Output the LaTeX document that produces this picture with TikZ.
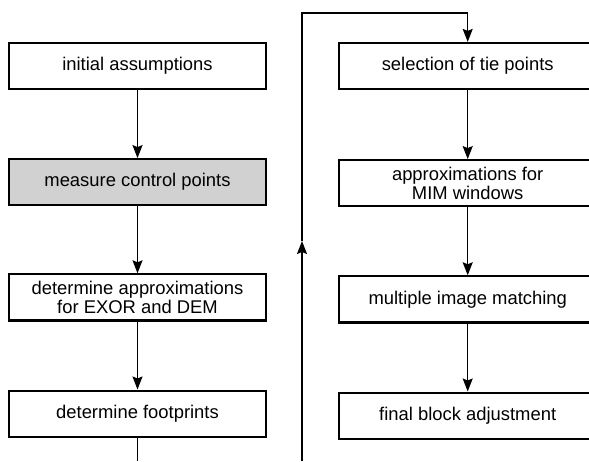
\documentclass[tikz,border=0pt]{standalone}
\usepackage{fontspec}
\setmainfont{Liberation Sans}
\usetikzlibrary{arrows.meta,positioning}
\tikzset{
  stepbox/.style={draw,line width=1.1pt,minimum width=128.5pt,minimum height=23pt,
    inner sep=2pt,align=center,font=\fontsize{9.2}{8.4}\selectfont},
  shaded/.style ={stepbox,fill=black!18},
  ar/.style     ={line width=0.7pt,-{Stealth[length=6.5pt,width=5pt,inset=1pt]}},
  ln/.style     ={line width=0.7pt},
}
\begin{document}
\begin{tikzpicture}[x=0.5pt,y=0.5pt]
  \clip (0,0) rectangle (589,461);
  % left column
  \node[stepbox] (init) at (137.5,395) {initial assumptions};
  \node[shaded] (meas) [below=34pt of init] {measure control points};
  \node[stepbox] (appr) [below=33.5pt of meas] {determine approximations\\for EXOR and DEM};
  \node[stepbox] (foot) [below=34pt of appr] {determine footprints};
  % right column
  \node[stepbox] (tie) [right=35.5pt of init] {selection of tie points};
  \node[stepbox] (mimw) [below=34.5pt of tie] {approximations for\\MIM windows};
  \node[stepbox] (mim) [below=34pt of mimw] {multiple image matching};
  \node[stepbox] (fin) [below=34pt of mim] {final block adjustment};
  % connectors
  \draw[ar] (init) -- (meas);
  \draw[ar] (meas) -- (appr);
  \draw[ar] (appr) -- (foot);
  \draw[ar] (tie) -- (mimw);
  \draw[ar] (mimw) -- (mim);
  \draw[ar] (mim) -- (fin);
  % loop back
  \coordinate (bot) at (137.5,0);
  \coordinate (loopB) at (302,0);
  \coordinate (loopM) at (302,220);
  \coordinate (loopT) at (302,448);
  \draw[ln] (foot) -- (bot);
  \draw[ar] (loopB) -- (loopM);
  \draw[ar] (loopM) -- (loopT) -| (tie.north);
\end{tikzpicture}
\end{document}
